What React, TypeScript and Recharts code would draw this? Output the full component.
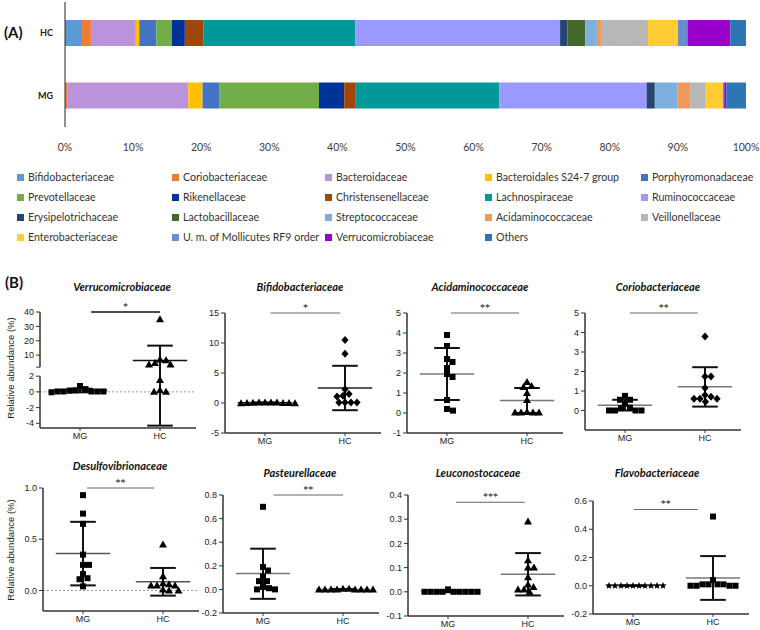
import React from 'react';
import { BarChart, Bar, XAxis, YAxis, ScatterChart, Scatter, ReferenceLine } from 'recharts';

// ---------------- (A) stacked composition ----------------
const groupNames = ['HC', 'MG'];
const familyNames = [
  'Bifidobacteriaceae', 'Coriobacteriaceae', 'Bacteroidaceae', 'Bacteroidales S24-7 group', 'Porphyromonadaceae',
  'Prevotellaceae', 'Rikenellaceae', 'Christensenellaceae', 'Lachnospiraceae', 'Ruminococcaceae',
  'Erysipelotrichaceae', 'Lactobacillaceae', 'Streptococcaceae', 'Acidaminococcaceae', 'Veillonellaceae',
  'Enterobacteriaceae', 'U. m. of Mollicutes RF9 order', 'Verrucomicrobiaceae', 'Others',
];
const hcPercent = [2.5, 1.3, 6.6, 0.5, 2.5, 2.3, 1.9, 2.7, 22.3, 30.1, 1.1, 2.6, 1.7, 0.6, 6.9, 4.4, 1.4, 6.3, 2.3];
const mgPercent = [0.1, 0.3, 17.7, 2.1, 2.5, 14.6, 3.7, 1.7, 21.1, 21.6, 1.2, 0.1, 3.2, 1.9, 2.3, 2.5, 0.2, 0.3, 3.0];
const familyColors = [
  '#5B9BD5', '#ED7D31', '#BB93DC', '#FFC000', '#4472C4',
  '#70AD47', '#003399', '#9E480E', '#009999', '#9999FF',
  '#264478', '#43682B', '#7CAFDD', '#F1975A', '#B7B7B7',
  '#FFCD33', '#698ED0', '#9900CC', '#2E75B6',
];
const percentTicks = [0, 10, 20, 30, 40, 50, 60, 70, 80, 90, 100];

// ---------------- (B) per-family scatter values ----------------
const verrucoMG = [0.35, 0.15, 0.05, 0.05, -0.05, 0.05, 0.05, 0.05, 0.2, 0.75];
const verrucoHC = [35, 7, 6.5, 4.5, 3.5, 3.5, 1.5, 0.2, 0, 0];
const verrucoMean = [0.17, 6.2];
const verrucoUpper = [0.4, 16.6];
const verrucoLower = [-0.06, -4.3];
const verrucoTicks = [40, 30, 20, 10, 2, 0, -2, -4];

const bifidoMG = [0.1, 0.1, 0.05, 0, -0.05, -0.05, 0, 0, 0.1, 0.1];
const bifidoHC = [10.5, 8.2, 2.3, 1.5, 1.2, 1.1, 0.1, 0.1, 0.1, 0.1];
const bifidoMean = [0.03, 2.5];
const bifidoUpper = [0.1, 6.2];
const bifidoLower = [-0.05, -1.2];
const bifidoTicks = [-5, 0, 5, 10, 15];

const acidMG = [3.9, 3.35, 2.7, 2.55, 2.25, 1.95, 1.8, 0.65, 0.2, 0.12];
const acidHC = [1.55, 1.35, 1.3, 1.0, 0.65, 0.05, 0.02, 0.02, 0.02, 0.02];
const acidMean = [1.95, 0.62];
const acidUpper = [3.25, 1.25];
const acidLower = [0.65, 0.0];
const acidTicks = [-1, 0, 1, 2, 3, 4, 5];

const corioMG = [0.75, 0.55, 0.55, 0.35, 0.15, 0.12, 0.0, 0.0, 0.0, 0.0];
const corioHC = [3.8, 1.75, 1.75, 1.15, 0.8, 0.7, 0.6, 0.6, 0.6, 0.45];
const corioMean = [0.27, 1.22];
const corioUpper = [0.55, 2.22];
const corioLower = [0.0, 0.2];
const corioTicks = [0, 1, 2, 3, 4, 5];

const desulfoMG = [0.93, 0.75, 0.65, 0.35, 0.25, 0.25, 0.16, 0.12, 0.11, 0.04];
const desulfoHC = [0.45, 0.14, 0.07, 0.06, 0.05, 0.05, 0.05, 0.01, 0.0, 0.0];
const desulfoMean = [0.36, 0.085];
const desulfoUpper = [0.67, 0.22];
const desulfoLower = [0.05, -0.05];
const desulfoTicks = [0, 0.5, 1.0];

const pasteurMG = [0.7, 0.19, 0.16, 0.11, 0.07, 0.07, 0.02, 0.01, 0.0, 0.0];
const pasteurHC = [0.005, 0, 0, 0, 0, 0, 0, 0, 0, 0.005];
const pasteurMean = [0.135, 0.0];
const pasteurUpper = [0.345, 0.003];
const pasteurLower = [-0.08, -0.003];
const pasteurTicks = [-0.2, 0, 0.2, 0.4, 0.6, 0.8];

const leucoMG = [0, 0, 0, 0, 0, 0, 0, 0, 0, 0.01];
const leucoHC = [0.29, 0.13, 0.1, 0.1, 0.06, 0.03, 0.02, 0.01, 0.01, 0.0];
const leucoMean = [0.001, 0.073];
const leucoUpper = [0.004, 0.16];
const leucoLower = [-0.002, -0.015];
const leucoTicks = [-0.1, 0, 0.1, 0.2, 0.3, 0.4];

const flavoMG = [0, 0, 0, 0, 0, 0, 0, 0, 0, 0];
const flavoHC = [0.49, 0.04, 0.01, 0.01, 0.0, 0.0, 0.0, 0.0, 0.01, 0.01];
const flavoMean = [0, 0.055];
const flavoUpper = [0, 0.21];
const flavoLower = [0, -0.1];
const flavoTicks = [-0.2, 0, 0.2, 0.4, 0.6];

const xGroupLabels = ['MG', 'HC'];

// broken axis mapping for Verrucomicrobiaceae (upper segment compressed)
const verrucoDisp = (v: number) => (v > 2.5 ? 4.68 + (v - 10) * 0.183 : v);

type MarkKind = 'square' | 'triangle' | 'diamond' | 'star';

type PanelCfg = {
  title: string; titleX: number; titleY: number;
  axisX: number; plotTop: number; plotBottom: number;
  domain: [number, number]; tickValues: number[]; decimals: number;
  mg: number[]; hc: number[]; mean: number[]; upper: number[]; lower: number[];
  mgMark: MarkKind; hcMark: MarkKind;
  sigY: number; sigX: [number, number]; sigText: string; sigDark: boolean;
  meanColor: string; zeroLine: boolean;
  disp?: (v: number) => number;
  broken?: { upperEnd: number; lowerTop: number };
  yLabel?: { x: number; y: number };
};

const panels: PanelCfg[] = [
  {
    title: 'Verrucomicrobiaceae', titleX: 122, titleY: 287, axisX: 40, plotTop: 312, plotBottom: 428,
    domain: [-4.6, 10.17], tickValues: verrucoTicks, decimals: 0,
    mg: verrucoMG, hc: verrucoHC, mean: verrucoMean, upper: verrucoUpper, lower: verrucoLower,
    mgMark: 'square', hcMark: 'triangle', sigY: 40, sigX: [1.14, 2.0], sigText: '*', sigDark: true,
    meanColor: '#111', zeroLine: true, disp: verrucoDisp, broken: { upperEnd: 3.15, lowerTop: 2 },
    yLabel: { x: 14, y: 368 },
  },
  {
    title: 'Bifidobacteriaceae', titleX: 300, titleY: 287, axisX: 225, plotTop: 313, plotBottom: 433,
    domain: [-5, 15], tickValues: bifidoTicks, decimals: 0,
    mg: bifidoMG, hc: bifidoHC, mean: bifidoMean, upper: bifidoUpper, lower: bifidoLower,
    mgMark: 'triangle', hcMark: 'diamond', sigY: 15, sigX: [1.07, 1.94], sigText: '*', sigDark: false,
    meanColor: '#222', zeroLine: false,
  },
  {
    title: 'Acidaminococcaceae', titleX: 480, titleY: 287, axisX: 407, plotTop: 313, plotBottom: 433,
    domain: [-1, 5], tickValues: acidTicks, decimals: 0,
    mg: acidMG, hc: acidHC, mean: acidMean, upper: acidUpper, lower: acidLower,
    mgMark: 'square', hcMark: 'triangle', sigY: 5, sigX: [1.05, 1.9], sigText: '**', sigDark: false,
    meanColor: '#777', zeroLine: false,
  },
  {
    title: 'Coriobacteriaceae', titleX: 658, titleY: 287, axisX: 585, plotTop: 313, plotBottom: 430,
    domain: [-1, 5], tickValues: corioTicks, decimals: 0,
    mg: corioMG, hc: corioHC, mean: corioMean, upper: corioUpper, lower: corioLower,
    mgMark: 'square', hcMark: 'diamond', sigY: 5, sigX: [1.06, 1.91], sigText: '**', sigDark: false,
    meanColor: '#777', zeroLine: false,
  },
  {
    title: 'Desulfovibrionaceae', titleX: 120, titleY: 466, axisX: 43, plotTop: 488, plotBottom: 611,
    domain: [-0.2, 1.0], tickValues: desulfoTicks, decimals: 1,
    mg: desulfoMG, hc: desulfoHC, mean: desulfoMean, upper: desulfoUpper, lower: desulfoLower,
    mgMark: 'square', hcMark: 'triangle', sigY: 1.0, sigX: [1.05, 1.89], sigText: '**', sigDark: false,
    meanColor: '#555', zeroLine: true, yLabel: { x: 14, y: 550 },
  },
  {
    title: 'Pasteurellaceae', titleX: 300, titleY: 473, axisX: 223, plotTop: 495, plotBottom: 613,
    domain: [-0.2, 0.8], tickValues: pasteurTicks, decimals: 1,
    mg: pasteurMG, hc: pasteurHC, mean: pasteurMean, upper: pasteurUpper, lower: pasteurLower,
    mgMark: 'square', hcMark: 'triangle', sigY: 0.8, sigX: [1.13, 2.0], sigText: '**', sigDark: false,
    meanColor: '#777', zeroLine: false,
  },
  {
    title: 'Leuconostocaceae', titleX: 478, titleY: 473, axisX: 408, plotTop: 495, plotBottom: 616,
    domain: [-0.1, 0.4], tickValues: leucoTicks, decimals: 1,
    mg: leucoMG, hc: leucoHC, mean: leucoMean, upper: leucoUpper, lower: leucoLower,
    mgMark: 'square', hcMark: 'triangle', sigY: 0.37, sigX: [1.1, 1.96], sigText: '***', sigDark: false,
    meanColor: '#777', zeroLine: false,
  },
  {
    title: 'Flavobacteriaceae', titleX: 657, titleY: 473, axisX: 593, plotTop: 501, plotBottom: 614,
    domain: [-0.2, 0.6], tickValues: flavoTicks, decimals: 1,
    mg: flavoMG, hc: flavoHC, mean: flavoMean, upper: flavoUpper, lower: flavoLower,
    mgMark: 'star', hcMark: 'square', sigY: 0.54, sigX: [1.01, 1.81], sigText: '**', sigDark: false,
    meanColor: '#777', zeroLine: false,
  },
];

const X_MIN = 0.5;
const X_MAX = 2.45;
const PLOT_W = 156;
const LEGEND_COL_X = [17, 172, 325, 485, 641];
const LEGEND_ROW_Y = [177, 197, 217, 237];

// column-scatter layout: spread points of similar value sideways so they don't overlap
function swarm(values: number[], center: number, pxPerX: number, pxPerY: number, gap = 6) {
  const order = values.map((v, i) => ({ v, i, py: -v * pxPerY })).sort((a, b) => a.py - b.py);
  const placed: { px: number; py: number }[] = [];
  const out: { x: number; y: number }[] = new Array(values.length);
  for (const p of order) {
    let chosen = 0;
    for (let k = 0; k < 200; k++) {
      const step = Math.ceil(k / 2) * 0.5;
      const off = k === 0 ? 0 : k % 2 === 1 ? step : -step;
      if (placed.every((q) => Math.hypot(q.px - off, q.py - p.py) >= gap)) { chosen = off; break; }
    }
    placed.push({ px: chosen, py: p.py });
    out[p.i] = { x: center + chosen / pxPerX, y: p.v };
  }
  return out;
}

function Mark({ cx, cy, kind }: { cx?: number; cy?: number; kind: MarkKind }) {
  if (cx == null || cy == null) return null;
  if (kind === 'square') return <rect x={cx - 3} y={cy - 3} width={6} height={6} fill="#000" />;
  if (kind === 'triangle') return <polygon points={`${cx},${cy - 4} ${cx - 4},${cy + 3} ${cx + 4},${cy + 3}`} fill="#000" />;
  if (kind === 'diamond') return <polygon points={`${cx},${cy - 4} ${cx + 3.6},${cy} ${cx},${cy + 4} ${cx - 3.6},${cy}`} fill="#000" />;
  const pts: string[] = [];
  for (let i = 0; i < 10; i++) {
    const r = i % 2 === 0 ? 3.8 : 1.7;
    const a = -Math.PI / 2 + (i * Math.PI) / 5;
    pts.push(`${cx + r * Math.cos(a)},${cy + r * Math.sin(a)}`);
  }
  return <polygon points={pts.join(' ')} fill="#000" />;
}

const tickFont = { fontSize: 9, fill: '#222', fontFamily: 'Liberation Sans, Arial, sans-serif' };

function Panel({ c }: { c: PanelCfg }) {
  const disp = c.disp ?? ((v: number) => v);
  const mTop = 16, xH = 22, yW = 34, mRight = 6;
  const plotH = c.plotBottom - c.plotTop;
  const pxPerY = plotH / (c.domain[1] - c.domain[0]);
  const pxPerX = PLOT_W / (X_MAX - X_MIN);
  const mgPts = swarm(c.mg.map(disp), 1, pxPerX, pxPerY);
  const hcPts = swarm(c.hc.map(disp), 2, pxPerX, pxPerY);
  const tickDisp = c.tickValues.map(disp);
  const fmt = (d: number) => {
    let best = 0;
    tickDisp.forEach((t, i) => { if (Math.abs(t - d) < Math.abs(tickDisp[best] - d)) best = i; });
    return c.tickValues[best].toFixed(c.decimals);
  };
  const axisStroke = { stroke: '#333', strokeWidth: 1.5 };
  const stats = [0, 1].flatMap((gi) => {
    const cx = gi + 1;
    const m = disp(c.mean[gi]);
    const hi = disp(c.upper[gi]);
    const lo = disp(c.lower[gi]);
    return [
      <ReferenceLine key={`m${gi}`} segment={[{ x: cx - 0.34, y: m }, { x: cx + 0.34, y: m }]} stroke={c.meanColor} strokeWidth={1.5} ifOverflow="visible" />,
      <ReferenceLine key={`v${gi}`} segment={[{ x: cx, y: lo }, { x: cx, y: hi }]} stroke="#111" strokeWidth={2} ifOverflow="visible" />,
      <ReferenceLine key={`h${gi}`} segment={[{ x: cx - 0.16, y: hi }, { x: cx + 0.16, y: hi }]} stroke="#111" strokeWidth={2} ifOverflow="visible" />,
      <ReferenceLine key={`l${gi}`} segment={[{ x: cx - 0.16, y: lo }, { x: cx + 0.16, y: lo }]} stroke="#111" strokeWidth={2} ifOverflow="visible" />,
    ];
  });
  const sy = disp(c.sigY);
  return (
    <div style={{ position: 'absolute', left: c.axisX - yW, top: c.plotTop - mTop }}>
      <ScatterChart width={yW + PLOT_W + mRight} height={mTop + plotH + xH} margin={{ top: mTop, right: mRight, bottom: 0, left: 0 }}>
        <XAxis type="number" dataKey="x" domain={[X_MIN, X_MAX]} ticks={[1, 2]} allowDataOverflow
          tickFormatter={(v: number) => xGroupLabels[Math.round(v) - 1]} height={xH} tickSize={3} tickMargin={2}
          axisLine={axisStroke} tickLine={{ stroke: '#333' }} tick={tickFont} interval={0} />
        <YAxis type="number" dataKey="y" domain={c.domain} ticks={tickDisp} allowDataOverflow width={yW}
          tickFormatter={fmt} tickSize={4} tickMargin={2} axisLine={c.broken ? false : axisStroke}
          tickLine={{ stroke: '#333' }} tick={tickFont} interval={0} />
        {c.zeroLine && <ReferenceLine y={0} stroke="#999" strokeDasharray="2 2" ifOverflow="visible" />}
        {c.broken && <ReferenceLine segment={[{ x: X_MIN, y: c.domain[1] }, { x: X_MIN, y: c.broken.upperEnd }]} stroke="#333" strokeWidth={1.5} ifOverflow="visible" />}
        {c.broken && <ReferenceLine segment={[{ x: X_MIN, y: c.broken.lowerTop }, { x: X_MIN, y: c.domain[0] }]} stroke="#333" strokeWidth={1.5} ifOverflow="visible" />}
        {c.broken && <ReferenceLine segment={[{ x: X_MIN - 0.05, y: c.broken.upperEnd }, { x: X_MIN, y: c.broken.upperEnd }]} stroke="#333" strokeWidth={1} ifOverflow="visible" />}
        <ReferenceLine segment={[{ x: c.sigX[0], y: sy }, { x: c.sigX[1], y: sy }]} stroke={c.sigDark ? '#111' : '#666'}
          strokeWidth={c.sigDark ? 1.5 : 1} ifOverflow="visible"
          label={{ value: c.sigText, position: 'top', fontSize: 10, fill: '#111', offset: 2 }} />
        {stats}
        <Scatter data={mgPts} isAnimationActive={false} shape={(p: any) => <Mark cx={p.cx} cy={p.cy} kind={c.mgMark} />} />
        <Scatter data={hcPts} isAnimationActive={false} shape={(p: any) => <Mark cx={p.cx} cy={p.cy} kind={c.hcMark} />} />
      </ScatterChart>
    </div>
  );
}

export default function App() {
  const stackData = groupNames.map((g, gi) => {
    const row: Record<string, string | number> = { group: g };
    familyNames.forEach((f, fi) => { row[f] = (gi === 0 ? hcPercent : mgPercent)[fi]; });
    return row;
  });
  return (
    <div style={{ position: 'absolute', left: 0, top: 0, width: 760, height: 630, background: '#fff', overflow: 'hidden' }}>
      <div style={{ position: 'absolute', left: 0, top: 0 }}>
        <BarChart layout="vertical" width={760} height={160} data={stackData} margin={{ top: 2, right: 14, bottom: 0, left: 0 }}>
          <XAxis type="number" domain={[0, 100]} ticks={percentTicks} allowDataOverflow interval={0}
            tickFormatter={(v: number) => `${v}%`} axisLine={false} tickLine={false} tickSize={0} tickMargin={17} height={33}
            tick={{ fontSize: 10.5, fill: '#404040', fontFamily: 'Lato, sans-serif' }} />
          <YAxis type="category" dataKey="group" width={65} axisLine={{ stroke: '#222', strokeWidth: 1 }} tickLine={false}
            tickSize={0} tickMargin={12} tick={{ fontSize: 9, fontWeight: 700, fill: '#222', fontFamily: 'Lato, sans-serif' }} />
          {familyNames.map((f, i) => (
            <Bar key={f} dataKey={f} stackId="s" fill={familyColors[i]} barSize={26} isAnimationActive={false} />
          ))}
        </BarChart>
      </div>
      {familyNames.map((f, i) => (
        <div key={f} style={{
          position: 'absolute', left: LEGEND_COL_X[i % 5], top: LEGEND_ROW_Y[Math.floor(i / 5)] - 7,
          display: 'flex', alignItems: 'center', whiteSpace: 'nowrap', fontFamily: 'Lato, sans-serif',
          fontSize: 10.6, color: '#333', lineHeight: '14px',
        }}>
          <span style={{ display: 'inline-block', width: 7, height: 7, background: familyColors[i], marginRight: 4 }} />
          {f}
        </div>
      ))}
      {panels.map((c) => <Panel key={c.title} c={c} />)}
      <svg width={760} height={630} style={{ position: 'absolute', left: 0, top: 0, pointerEvents: 'none' }}>
        <text x={4} y={38} fontFamily="Lato, sans-serif" fontWeight={700} fontSize={15} fill="#111">(A)</text>
        <text x={5} y={288} fontFamily="Lato, sans-serif" fontWeight={700} fontSize={15} fill="#111">(B)</text>
        {panels.map((c) => (
          <text key={c.title} x={c.titleX} y={c.titleY + 4} textAnchor="middle" fontStyle="italic" fontWeight={700}
            fontSize={11} fontFamily="Lato, sans-serif" fill="#111">{c.title}</text>
        ))}
        {panels.filter((c) => c.yLabel).map((c) => (
          <text key={`yl-${c.title}`} transform={`translate(${c.yLabel!.x},${c.yLabel!.y}) rotate(-90)`} textAnchor="middle"
            fontSize={9.5} fontFamily="Liberation Sans, Arial, sans-serif" fill="#222">Relative abundance (%)</text>
        ))}
      </svg>
    </div>
  );
}
